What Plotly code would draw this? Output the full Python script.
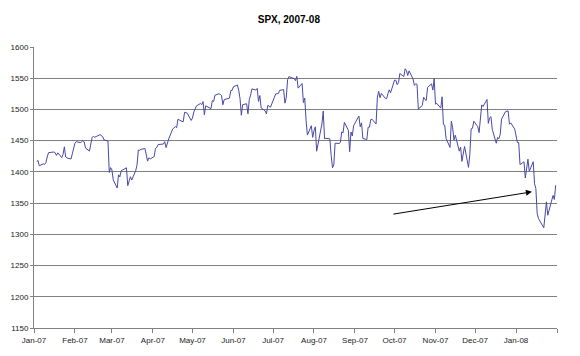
import plotly.graph_objects as go

# ---- data: S&P 500 daily closes, Jan 2007 - Jan 2008 ----
months = ["2007-01", "2007-02", "2007-03", "2007-04", "2007-05", "2007-06", "2007-07",
          "2007-08", "2007-09", "2007-10", "2007-11", "2007-12", "2008-01"]

days_2007_01 = [3, 4, 5, 8, 9, 10, 11, 12, 16, 17, 18, 19, 22, 23, 24, 25, 26, 29, 30, 31]
close_2007_01 = [1416.60, 1418.34, 1409.71, 1412.84, 1412.11, 1414.85, 1423.82, 1430.73, 1431.90, 1430.62,
                 1426.37, 1430.50, 1422.95, 1427.99, 1440.13, 1423.90, 1422.18, 1420.62, 1428.82, 1438.24]

days_2007_02 = [1, 2, 5, 6, 7, 8, 9, 12, 13, 14, 15, 16, 20, 21, 22, 23, 26, 27, 28]
close_2007_02 = [1445.94, 1448.39, 1446.99, 1448.00, 1450.02, 1448.31, 1438.06, 1433.37, 1444.26, 1455.30,
                 1456.81, 1455.54, 1459.68, 1457.63, 1456.38, 1451.19, 1449.37, 1399.04, 1406.82]

days_2007_03 = [1, 2, 5, 6, 7, 8, 9, 12, 13, 14, 15, 16, 19, 20, 21, 22, 23, 26, 27, 28, 29, 30]
close_2007_03 = [1403.17, 1387.17, 1374.12, 1395.41, 1391.97, 1401.89, 1402.84, 1406.60, 1377.95, 1387.17,
                 1392.28, 1386.95, 1402.06, 1410.94, 1435.04, 1434.54, 1436.11, 1437.50, 1428.61, 1417.23,
                 1422.53, 1420.86]

days_2007_04 = [2, 3, 4, 5, 9, 10, 11, 12, 13, 16, 17, 18, 19, 20, 23, 24, 25, 26, 27, 30]
close_2007_04 = [1424.55, 1437.77, 1439.37, 1443.76, 1444.61, 1448.39, 1438.87, 1447.80, 1452.85, 1468.47,
                 1471.48, 1472.50, 1470.73, 1484.35, 1480.93, 1480.41, 1495.42, 1494.25, 1494.07, 1482.37]

days_2007_05 = [1, 2, 3, 4, 7, 8, 9, 10, 11, 14, 15, 16, 17, 18, 21, 22, 23, 24, 25, 29, 30, 31]
close_2007_05 = [1486.30, 1495.92, 1502.39, 1505.62, 1509.48, 1507.72, 1512.58, 1491.47, 1505.85, 1503.15,
                 1501.19, 1514.14, 1512.75, 1522.75, 1525.10, 1524.12, 1522.28, 1507.51, 1515.73, 1518.11,
                 1530.23, 1530.62]

days_2007_06 = [1, 4, 5, 6, 7, 8, 11, 12, 13, 14, 15, 18, 19, 20, 21, 22, 25, 26, 27, 28, 29]
close_2007_06 = [1536.34, 1539.18, 1530.95, 1517.38, 1490.72, 1507.67, 1509.12, 1493.00, 1515.67, 1522.97,
                 1532.91, 1531.05, 1533.70, 1512.84, 1522.19, 1502.56, 1497.74, 1492.89, 1506.34, 1505.71,
                 1503.35]

days_2007_07 = [2, 3, 5, 6, 9, 10, 11, 12, 13, 16, 17, 18, 19, 20, 23, 24, 25, 26, 27, 30, 31]
close_2007_07 = [1519.43, 1524.87, 1525.40, 1530.44, 1531.85, 1510.12, 1518.76, 1547.70, 1552.50, 1549.52,
                 1549.37, 1546.17, 1553.08, 1534.10, 1541.57, 1511.04, 1518.09, 1482.66, 1458.95, 1473.91,
                 1455.27]

days_2007_08 = [1, 2, 3, 6, 7, 8, 9, 10, 13, 14, 15, 16, 17, 20, 21, 22, 23, 24, 27, 28, 29, 30, 31]
close_2007_08 = [1465.81, 1472.20, 1433.06, 1467.67, 1476.71, 1497.49, 1453.09, 1453.64, 1452.92, 1426.54,
                 1406.70, 1411.27, 1445.94, 1445.55, 1447.12, 1464.07, 1462.50, 1479.37, 1466.79, 1432.36,
                 1463.76, 1457.64, 1473.99]

days_2007_09 = [4, 5, 6, 7, 10, 11, 12, 13, 14, 17, 18, 19, 20, 21, 24, 25, 26, 27, 28]
close_2007_09 = [1489.42, 1472.29, 1478.55, 1453.55, 1451.70, 1471.49, 1471.56, 1483.95, 1484.25, 1476.65,
                 1519.78, 1529.03, 1518.75, 1525.75, 1517.73, 1517.21, 1525.42, 1531.38, 1526.75]

days_2007_10 = [1, 2, 3, 4, 5, 8, 9, 10, 11, 12, 15, 16, 17, 18, 19, 22, 23, 24, 25, 26, 29, 30, 31]
close_2007_10 = [1547.04, 1546.63, 1539.59, 1542.84, 1557.59, 1552.58, 1565.15, 1562.47, 1554.41, 1561.80,
                 1548.71, 1538.53, 1541.24, 1540.08, 1500.63, 1506.33, 1519.59, 1515.88, 1514.40, 1535.28,
                 1540.98, 1531.02, 1549.38]

days_2007_11 = [1, 2, 5, 6, 7, 8, 9, 12, 13, 14, 15, 16, 19, 20, 21, 23, 26, 27, 28, 29, 30]
close_2007_11 = [1508.44, 1509.65, 1502.17, 1520.27, 1475.62, 1474.77, 1453.70, 1439.18, 1481.05, 1470.58,
                 1451.15, 1458.74, 1433.27, 1439.70, 1416.77, 1440.70, 1407.22, 1428.23, 1469.02, 1469.72,
                 1481.14]

days_2007_12 = [3, 4, 5, 6, 7, 10, 11, 12, 13, 14, 17, 18, 19, 20, 21, 24, 26, 27, 28, 31]
close_2007_12 = [1472.42, 1462.79, 1485.01, 1507.34, 1504.66, 1515.96, 1477.65, 1486.59, 1488.41, 1467.95,
                 1445.90, 1454.98, 1453.00, 1460.12, 1484.46, 1496.45, 1497.66, 1476.27, 1478.49, 1468.36]

days_2008_01 = [2, 3, 4, 7, 8, 9, 10, 11, 14, 15, 16, 17, 18, 22, 23, 24, 25, 28, 29, 30, 31]
close_2008_01 = [1447.16, 1447.16, 1411.63, 1416.18, 1390.19, 1409.13, 1420.33, 1401.02, 1416.25, 1380.95,
                 1373.20, 1333.25, 1325.19, 1310.50, 1338.60, 1352.07, 1330.61, 1353.96, 1362.30, 1355.81,
                 1378.55]

month_days = [days_2007_01, days_2007_02, days_2007_03, days_2007_04, days_2007_05, days_2007_06,
              days_2007_07, days_2007_08, days_2007_09, days_2007_10, days_2007_11, days_2007_12,
              days_2008_01]
month_closes = [close_2007_01, close_2007_02, close_2007_03, close_2007_04, close_2007_05, close_2007_06,
                close_2007_07, close_2007_08, close_2007_09, close_2007_10, close_2007_11, close_2007_12,
                close_2008_01]

tick_dates = ["2007-01-01", "2007-02-01", "2007-03-01", "2007-04-01", "2007-05-01", "2007-06-01",
              "2007-07-01", "2007-08-01", "2007-09-01", "2007-10-01", "2007-11-01", "2007-12-01",
              "2008-01-01", "2008-02-01"]
tick_labels = ["Jan-07", "Feb-07", "Mar-07", "Apr-07", "May-07", "Jun-07", "Jul-07", "Aug-07",
               "Sep-07", "Oct-07", "Nov-07", "Dec-07", "Jan-08", ""]

y_ticks = [1150, 1200, 1250, 1300, 1350, 1400, 1450, 1500, 1550, 1600]

# arrow annotation (tail -> head)
arrow_tail = ("2007-09-29", 1332)
arrow_head = ("2008-01-13", 1368)

# ---- build ----
dates, closes = [], []
for m, ds, cs in zip(months, month_days, month_closes):
    for d, c in zip(ds, cs):
        dates.append(f"{m}-{d:02d}")
        closes.append(c)

fig = go.Figure()
fig.add_trace(go.Scatter(x=dates, y=closes, mode="lines",
                         line=dict(color="#4848a8", width=1), hoverinfo="x+y"))

fig.add_annotation(x=arrow_head[0], y=arrow_head[1], ax=arrow_tail[0], ay=arrow_tail[1],
                   xref="x", yref="y", axref="x", ayref="y", text="", showarrow=True,
                   arrowhead=2, arrowsize=1.2, arrowwidth=1, arrowcolor="#000000")

# page body has an 8px margin, so the figure is sized to fit the 580x356 window
fig.update_layout(
    width=572, height=348,
    margin=dict(l=26, r=23, t=39, b=28),
    paper_bgcolor="white", plot_bgcolor="white",
    showlegend=False,
    font=dict(family="Liberation Sans, Arial, sans-serif", size=8, color="#222222"),
    title=dict(text="<b>SPX, 2007-08</b>", x=0.491, xanchor="center", y=0.968, yanchor="middle",
               font=dict(size=10, color="#000000")),
    xaxis=dict(type="date", range=["2007-01-01", "2008-02-01"], automargin=False,
               tickmode="array", tickvals=tick_dates, ticktext=tick_labels,
               showgrid=False, zeroline=False,
               showline=True, linecolor="#808080", linewidth=1,
               ticks="outside", ticklen=4, tickcolor="#808080", tickwidth=1),
    yaxis=dict(range=[1150, 1600], tickmode="array", tickvals=y_ticks, automargin=False,
               showgrid=True, gridcolor="#808080", gridwidth=1, zeroline=False,
               showline=True, linecolor="#808080", linewidth=1,
               ticks="outside", ticklen=3, tickcolor="#808080", tickwidth=1),
)

fig.write_html("out.html")
